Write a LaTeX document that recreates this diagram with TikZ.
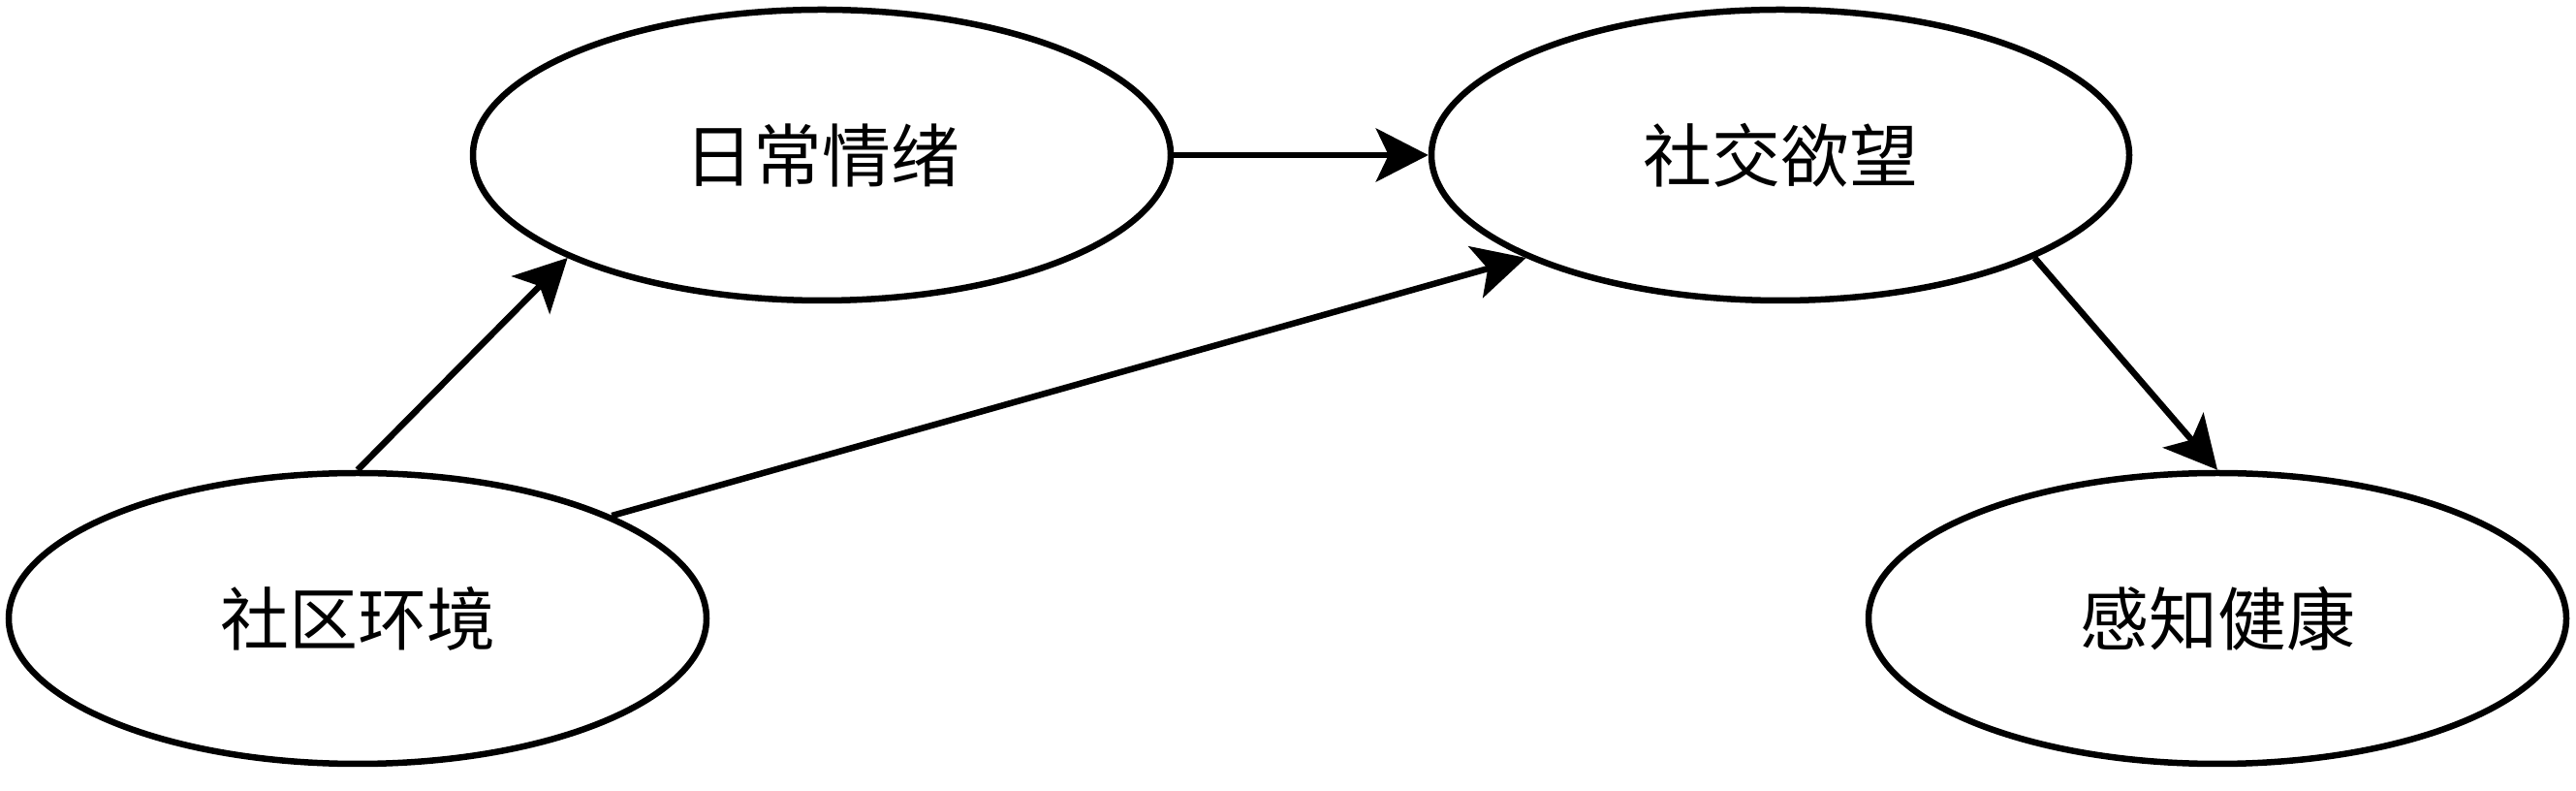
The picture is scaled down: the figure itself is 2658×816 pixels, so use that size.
\documentclass[tikz,border=0pt]{standalone}
\usepackage{fontspec}
\usepackage{tikz}
\usetikzlibrary{shapes.geometric,arrows.meta}
\newfontfamily\cjk{Noto Sans CJK SC}

\begin{document}
\begin{tikzpicture}[x=1pt,y=1pt]
    \tikzset{Variable/.style = {shape=ellipse,draw,line width=6.5pt,inner sep=0pt,minimum width=720pt,minimum height=300pt,font=\cjk\fontsize{71}{80}\selectfont}}

    \tikzset{flecha/.style = {-{Stealth[length=54pt,width=55pt,inset=13pt]},black,line width=6.5pt}}

    \useasboundingbox (0,0) rectangle (2658,816);

    \node[Variable] (emocionDiaria) at (848,656) {日常情绪};
    \node[Variable] (deseoSocial) at (1837,656) {社交欲望};

    \node[Variable] (entornoComunidad) at (369,178) {社区环境};
    \node[Variable] (saludPercibida) at (2288,178) {感知健康};

    %Entradas desde el entorno
    \draw [flecha] (entornoComunidad.north) to (emocionDiaria.202.5);
    \draw [flecha] (entornoComunidad.22.5) to (deseoSocial.202.5);

    %Emocion a deseo
    \draw [flecha] (emocionDiaria) to (deseoSocial);

    %Salida hacia la salud
    \draw [flecha] (deseoSocial.-22.5) to (saludPercibida.north);

\end{tikzpicture}
\end{document}
